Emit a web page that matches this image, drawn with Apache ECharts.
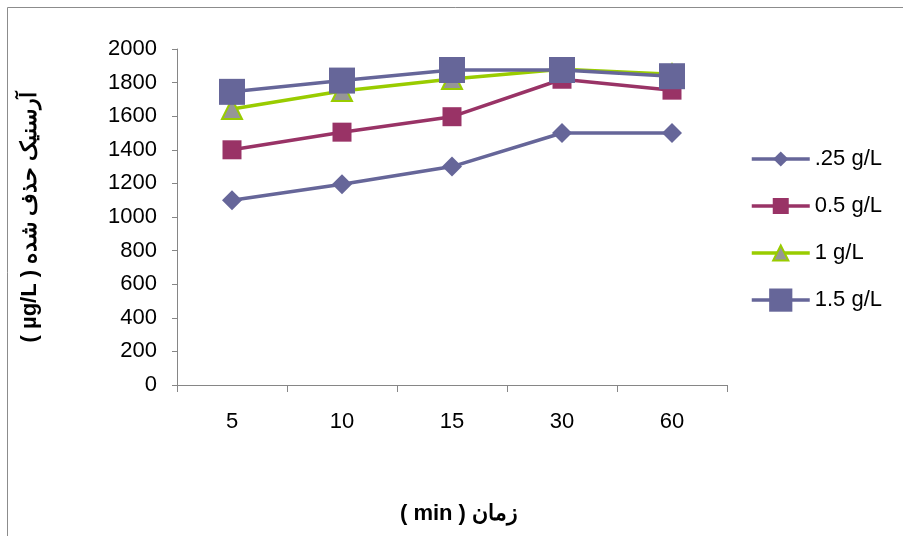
<!DOCTYPE html>
<html>
<head>
<meta charset="utf-8">
<script src="https://cdn.jsdelivr.net/npm/echarts@6/dist/echarts.min.js"></script>
<style>
  html, body { margin: 0; padding: 0; background: #ffffff; }
  #chart { width: 903px; height: 536px; }
</style>
</head>
<body>
<div id="chart"></div>
<script>
// Sampling times (min)
const times = ['5', '10', '15', '30', '60'];

// Arsenic removed (µg/L) for each adsorbent dose
const dose025 = [1100, 1195, 1300, 1500, 1500];
const dose05  = [1400, 1505, 1597, 1820, 1755];
const dose1   = [1643, 1750, 1821, 1880, 1850];
const dose15  = [1745, 1812, 1875, 1875, 1838];

const seriesNames = ['.25 g/L', '0.5 g/L', '1 g/L', '1.5 g/L'];

// Value axis range
const yMin = 0, yMax = 2000, yStep = 200;

const FONT = '"Liberation Sans", Arial, sans-serif';
const AXIS_GRAY = '#868686';
const SLATE = '#666699';
const PLUM = '#993366';
const LIME = '#99CC00';
const GRAY = '#969696';
const LINE_W = 3.5;

const chart = echarts.init(document.getElementById('chart'), null, { renderer: 'canvas' });

// one legend block per series so each icon keeps its own marker size
const legendRows = [
  { name: seriesNames[0], center: 160, h: 19 },
  { name: seriesNames[1], center: 207, h: 20 },
  { name: seriesNames[2], center: 254, h: 19 },
  { name: seriesNames[3], center: 303, h: 29 }
];

const option = {
  backgroundColor: '#ffffff',
  animation: false,
  textStyle: { fontFamily: FONT },
  graphic: [{
    type: 'rect',
    shape: { x: 7.5, y: 7.5, width: 1000, height: 1000 },
    style: { fill: 'none', stroke: '#8c8c8c', lineWidth: 1 },
    silent: true
  }],
  grid: { left: 177, top: 49, width: 550, height: 336, containLabel: false },
  legend: legendRows.map(r => ({
    data: [r.name],
    left: 750,
    top: r.center - Math.max(r.h, 24) / 2,
    padding: 0,
    itemWidth: 58,
    itemHeight: r.h,
    lineStyle: { width: LINE_W },
    textStyle: { fontSize: 22, color: '#000000', fontFamily: FONT },
    selectedMode: false
  })),
  xAxis: {
    type: 'category',
    data: times,
    boundaryGap: true,
    axisLine: { lineStyle: { color: AXIS_GRAY, width: 1 } },
    axisTick: { show: true, length: 7, lineStyle: { color: AXIS_GRAY } },
    axisLabel: { fontSize: 22, color: '#000000', margin: 26, fontFamily: FONT },
    splitLine: { show: false },
    name: '( min ) زمان',
    nameLocation: 'middle',
    nameGap: 118,
    nameTextStyle: { fontSize: 22, fontWeight: 'bold', color: '#000000', fontFamily: FONT, padding: [0, 0, 0, 14] }
  },
  yAxis: {
    type: 'value',
    min: yMin,
    max: yMax,
    interval: yStep,
    axisLine: { show: true, lineStyle: { color: AXIS_GRAY, width: 1 } },
    axisTick: { show: true, length: 5, lineStyle: { color: AXIS_GRAY } },
    axisLabel: { fontSize: 22, color: '#000000', margin: 20, fontFamily: FONT, formatter: v => String(v) },
    splitLine: { show: false },
    name: '( µg/L ) آرسنیک حذف شده',
    nameLocation: 'middle',
    nameRotate: 90,
    nameGap: 136,
    nameTextStyle: { fontSize: 22, fontWeight: 'bold', color: '#000000', fontFamily: FONT }
  },
  series: [
    {
      name: seriesNames[0], type: 'line', data: dose025,
      symbol: 'diamond', symbolSize: 20,
      lineStyle: { color: SLATE, width: LINE_W },
      itemStyle: { color: SLATE }
    },
    {
      name: seriesNames[1], type: 'line', data: dose05,
      symbol: 'rect', symbolSize: 19,
      lineStyle: { color: PLUM, width: LINE_W },
      itemStyle: { color: PLUM }
    },
    {
      name: seriesNames[2], type: 'line', data: dose1,
      symbol: 'triangle', symbolSize: 20,
      lineStyle: { color: LIME, width: LINE_W },
      itemStyle: { color: GRAY, borderColor: LIME, borderWidth: 2 }
    },
    {
      name: seriesNames[3], type: 'line', data: dose15,
      symbol: 'rect', symbolSize: 26,
      lineStyle: { color: SLATE, width: LINE_W },
      itemStyle: { color: SLATE }
    }
  ]
};

chart.setOption(option);
</script>
</body>
</html>
